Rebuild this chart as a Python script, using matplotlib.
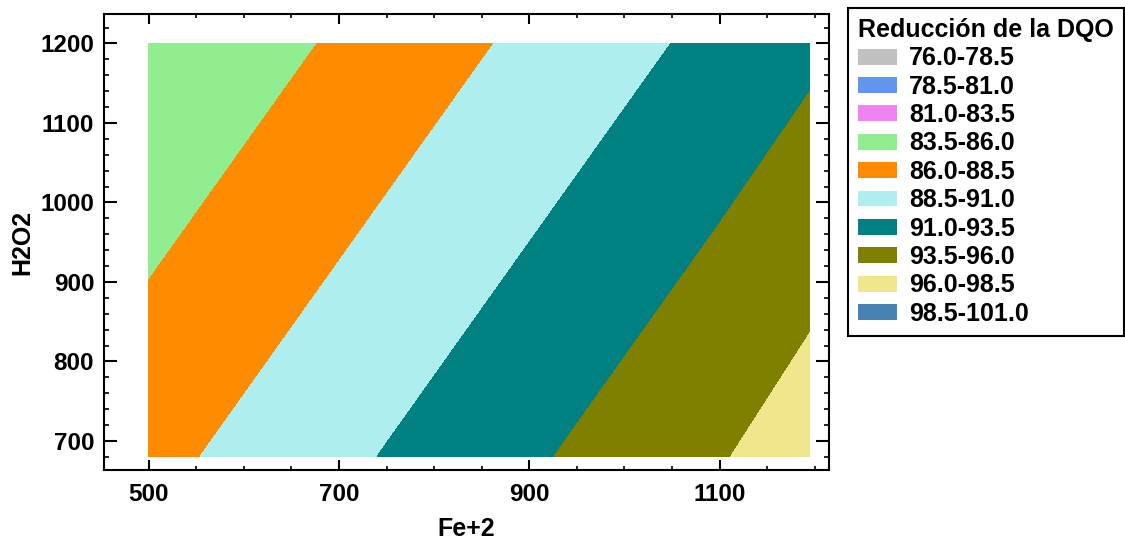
import numpy as np
import matplotlib.pyplot as plt
from matplotlib.patches import Patch

plt.rcParams['font.family'] = ['Liberation Sans', 'DejaVu Sans']
plt.rcParams['font.weight'] = 'bold'

# grid (Fe+2 on x, H2O2 on y, reduction in %)
fe = [500, 700, 900, 1100, 1195]
h2o2 = [681, 940, 1200]
dqo = [
    [87.77, 90.46, 93.15, 95.84, 97.12],
    [85.70, 88.39, 91.08, 93.77, 95.25],
    [83.62, 86.31, 89.00, 91.69, 92.97],
]

levels = [76.0, 78.5, 81.0, 83.5, 86.0, 88.5, 91.0, 93.5, 96.0, 98.5, 101.0]
colors = ['#C0C0C0', '#6495ED', '#EE82EE', '#90EE90', '#FF8C00',
          '#AFEEEE', '#008080', '#808000', '#F0E68C', '#4682B4']
labels = ['%.1f-%.1f' % (levels[i], levels[i + 1]) for i in range(len(colors))]

fig = plt.figure(figsize=(11.25, 5.41), dpi=100)
ax = fig.add_axes([0.0924, 0.1312, 0.6445, 0.8429])

ax.contourf(fe, h2o2, dqo, levels=levels, colors=colors)

ax.set_xlim(453, 1215)
ax.set_ylim(663.5, 1237)
ax.set_xticks([500, 700, 900, 1100])
ax.set_xticks(np.arange(500, 1201, 50), minor=True)
ax.set_yticks([700, 800, 900, 1000, 1100, 1200])
ax.set_yticks(np.arange(680, 1221, 20), minor=True)

ax.tick_params(which='both', direction='in', top=True, right=True, labelsize=17.5)
ax.tick_params(axis='x', which='major', length=7.2, width=1.5, pad=9)
ax.tick_params(axis='x', which='minor', length=3, width=1.2)
ax.tick_params(axis='y', which='major', length=9.4, width=1.5, pad=7)
ax.tick_params(axis='y', which='minor', length=3.6, width=1.2)
for s in ax.spines.values():
    s.set_linewidth(1.5)

ax.set_xlabel('Fe+2', fontsize=18, fontweight='bold', labelpad=8)
ax.set_ylabel('H2O2', fontsize=18, fontweight='bold', labelpad=4)

handles = [Patch(facecolor=c, edgecolor='none') for c in colors]
leg = fig.legend(handles, labels, title='Reducción de la DQO',
                 loc='upper left', bbox_to_anchor=(848 / 1125, 1 - 8 / 541),
                 prop={'size': 18, 'weight': 'bold'},
                 title_fontproperties={'size': 18, 'weight': 'bold'},
                 alignment='left', fancybox=False, framealpha=1,
                 edgecolor='black', handlelength=1.56, handleheight=0.6,
                 handletextpad=0.48, labelspacing=0.175, borderpad=0.4,
                 borderaxespad=0)
leg.get_frame().set_linewidth(1.5)

fig.savefig('out.png', dpi=100)
